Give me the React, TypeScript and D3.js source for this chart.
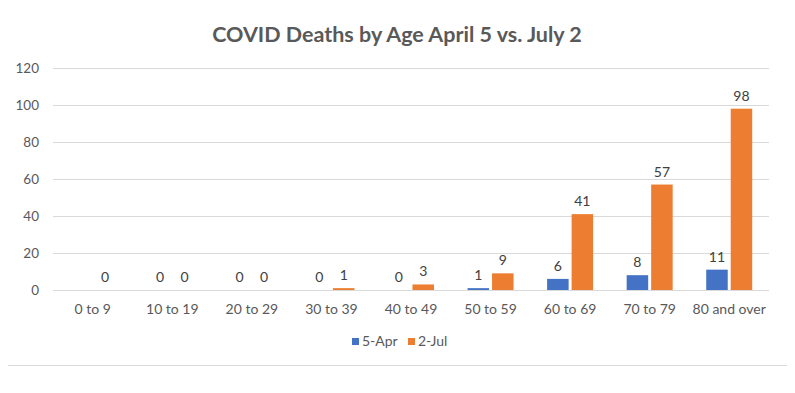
import { useEffect, useRef } from 'react';
import * as d3 from 'd3';

const categories = ['0 to 9', '10 to 19', '20 to 29', '30 to 39', '40 to 49', '50 to 59', '60 to 69', '70 to 79', '80 and over'];
const april5: (number | null)[] = [null, 0, 0, 0, 0, 1, 6, 8, 11];
const july2: (number | null)[] = [0, 0, 0, 1, 3, 9, 41, 57, 98];
const seriesNames = ['5-Apr', '2-Jul'];
const seriesColors = ['#4472C4', '#ED7D31'];
const yTicks = [0, 20, 40, 60, 80, 100, 120];

const W = 795;
const H = 393;
const FONT = 'Lato, "Open Sans", sans-serif';

const App = () => {
  const svgRef = useRef<SVGSVGElement>(null);

  useEffect(() => {
    if (!svgRef.current) return;
    const svg = d3.select(svgRef.current);
    svg.selectAll('*').remove();

    // chart frame
    svg.append('rect')
      .attr('x', 5.5).attr('y', 7.5)
      .attr('width', 782).attr('height', 358)
      .attr('fill', '#fff')
      .attr('stroke', '#d9d9d9');

    const left = 53, right = 769, top = 68, bottom = 290;

    const x = d3.scaleBand().domain(categories).range([left, right]);
    const y = d3.scaleLinear().domain([0, 120]).range([bottom, top]);
    const inner = d3.scaleBand().domain(seriesNames).range([-23, 23]).paddingInner(5 / 41);

    svg.append('text')
      .attr('x', 397).attr('y', 42)
      .attr('text-anchor', 'middle')
      .attr('font-family', FONT)
      .attr('font-weight', 'bold')
      .attr('font-size', 21.5)
      .attr('fill', '#595959')
      .text('COVID Deaths by Age April 5 vs. July 2');

    const grid = svg.append('g');
    grid.selectAll('line')
      .data(yTicks)
      .enter()
      .append('line')
      .attr('x1', left).attr('x2', right)
      .attr('y1', d => Math.round(y(d)) + 0.5)
      .attr('y2', d => Math.round(y(d)) + 0.5)
      .attr('stroke', '#d9d9d9');

    grid.selectAll('text')
      .data(yTicks)
      .enter()
      .append('text')
      .attr('x', 39).attr('y', d => y(d) + 4.5)
      .attr('text-anchor', 'end')
      .attr('font-family', FONT)
      .attr('font-size', 13.5)
      .attr('fill', '#595959')
      .text(d => d);

    const series = [april5, july2];
    series.forEach((vals, si) => {
      const g = svg.append('g');
      const pts = categories
        .map((c, i) => ({ c, v: vals[i] }))
        .filter(d => d.v !== null) as { c: string; v: number }[];
      const cx = (c: string) => (x(c) as number) + x.bandwidth() / 2 + (inner(seriesNames[si]) as number);

      g.selectAll('rect')
        .data(pts)
        .enter()
        .append('rect')
        .attr('x', d => cx(d.c))
        .attr('width', inner.bandwidth())
        .attr('y', d => y(d.v))
        .attr('height', d => bottom - y(d.v))
        .attr('fill', seriesColors[si]);

      g.selectAll('text')
        .data(pts)
        .enter()
        .append('text')
        .attr('x', d => cx(d.c) + inner.bandwidth() / 2)
        .attr('y', d => y(d.v) - 8)
        .attr('text-anchor', 'middle')
        .attr('font-family', FONT)
        .attr('font-size', 14)
        .attr('fill', '#404040')
        .text(d => d.v);
    });

    svg.append('g')
      .selectAll('text')
      .data(categories)
      .enter()
      .append('text')
      .attr('x', d => (x(d) as number) + x.bandwidth() / 2)
      .attr('y', 314)
      .attr('text-anchor', 'middle')
      .attr('font-family', FONT)
      .attr('font-size', 14)
      .attr('fill', '#595959')
      .text(d => d);

    // legend
    const legendX = [352, 408];
    const legend = svg.append('g');
    seriesNames.forEach((name, i) => {
      legend.append('rect')
        .attr('x', legendX[i]).attr('y', 338)
        .attr('width', 7).attr('height', 7)
        .attr('fill', seriesColors[i]);
      legend.append('text')
        .attr('x', legendX[i] + 10).attr('y', 346)
        .attr('font-family', FONT)
        .attr('font-size', 14)
        .attr('fill', '#595959')
        .text(name);
    });
  }, []);

  return (
    <div style={{ margin: -8 }}>
      <svg ref={svgRef} width={W} height={H} style={{ display: 'block' }}></svg>
    </div>
  );
};

export default App;
